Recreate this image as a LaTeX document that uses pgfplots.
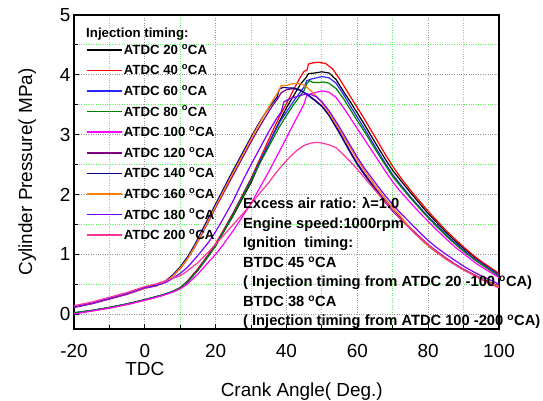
\documentclass[border=0pt]{standalone}
\usepackage{fontspec}
\setmainfont{Liberation Sans}
\usepackage{pgfplots}
\pgfplotsset{compat=1.18}
\definecolor{cRed}{RGB}{255,0,0}
\definecolor{cBlue}{RGB}{40,40,255}
\definecolor{cGreen}{RGB}{0,128,0}
\definecolor{cMag}{RGB}{255,0,255}
\definecolor{cPurp}{RGB}{128,0,128}
\definecolor{cNavy}{RGB}{0,0,140}
\definecolor{cOrange}{RGB}{255,128,0}
\definecolor{cViolet}{RGB}{128,0,255}
\definecolor{cPink}{RGB}{255,51,153}
\definecolor{gridgreen}{RGB}{90,240,90}
\begin{document}
\begin{tikzpicture}
\path[use as bounding box] (-74bp,-72bp) rectangle (469bp,329bp);
\begin{axis}[
 scale only axis, width=425bp, height=314bp,
 xmin=-20, xmax=100, ymin=-0.25, ymax=5,
 xtick={-20,0,...,100}, minor xtick={-10,10,...,90},
 ytick={0,1,...,5}, minor ytick={0.5,1.5,...,4.5},
 grid=both,
 major grid style={gray!85, dotted, line width=0.8bp},
 minor grid style={gridgreen, dotted, line width=1bp},
 axis line style={line width=1.6bp},
 tick align=inside, tick pos=left,
 major tick length=5bp, minor tick length=4bp,
 every tick/.style={black, line width=1bp},
 /pgf/number format/assume math mode=true,
 ticklabel style={font=\fontsize{19}{22}\selectfont},
 xticklabel style={yshift=-12bp},
 xlabel={Crank Angle( Deg.)}, ylabel={Cylinder Pressure( MPa)},
 label style={font=\fontsize{19}{22}\selectfont},
 xlabel style={at={(axis description cs:0.536,-0.198)}, anchor=center},
 ylabel style={at={(axis description cs:-0.11,0.5)}, anchor=center},
 legend style={at={(rel axis cs:0.027,0.909)}, anchor=north west, draw=none, fill=none,
   font=\bfseries\fontsize{13.3}{14}\selectfont, row sep=8.6bp, inner sep=0pt,
   nodes={inner sep=1.5bp, text height=9bp, text depth=0pt}},
 legend cell align=left,
 legend image code/.code={\draw[#1, line width=1.7bp, solid] (0bp,0bp) -- (35bp,0bp);},
 every axis plot/.append style={line width=1.2bp},
 after end axis/.code={
   \node[anchor=west, inner sep=0pt, font=\bfseries\fontsize{13.3}{14}\selectfont] at (axis cs:-16.6,4.683) {Injection timing:};
   \node[anchor=north west, align=left, inner sep=0pt, font=\bfseries\fontsize{14.75}{19.6}\selectfont] at (axis cs:27.7,1.95) {Excess air ratio: λ=1.0\\Engine speed:1000rpm\\Ignition\ \ timing:\\BTDC 45 \textsuperscript{o}CA\\( Injection timing from ATDC 20 -100 \textsuperscript{o}CA)\\BTDC 38 \textsuperscript{o}CA\\( Injection timing from ATDC 100 -200 \textsuperscript{o}CA)};
   \node[font=\fontsize{19}{22}\selectfont] at (axis cs:0,-0.25) [yshift=-40bp] {TDC};
 },
]
\addplot[black] coordinates {(-20,0.02) (-15,0.06) (-10,0.11) (-5,0.17) (0,0.24) (5,0.32) (8,0.38) (10,0.44) (12,0.54) (15,0.74) (18,0.98) (20,1.15) (22,1.35) (25,1.65) (28,1.98) (30,2.2) (33,2.6) (35,2.85) (38,3.22) (40,3.45) (42,3.65) (44,3.85) (45.5,3.95) (46.2,4.02) (48,4.03) (50,4.05) (52,4.03) (54,3.92) (56,3.73) (58,3.55) (60,3.36) (62,3.17) (65,2.87) (68,2.58) (70,2.4) (72,2.25) (75,2.03) (78,1.82) (80,1.68) (82.4,1.53) (85,1.37) (88,1.2) (90,1.1) (93.8,0.92) (97.5,0.77) (100,0.67)};
\addlegendentry{ATDC 20 \textsuperscript{o}CA}
\addplot[cRed] coordinates {(-20,0.01) (-15,0.05) (-10,0.1) (-5,0.16) (0,0.23) (5,0.31) (8,0.38) (10,0.44) (12,0.55) (15,0.76) (18,1.0) (20,1.18) (22,1.38) (25,1.7) (28,2.04) (30,2.27) (33,2.66) (35,2.92) (38,3.3) (40,3.52) (42,3.75) (44,3.97) (45,4.06) (45.8,4.08) (46.2,4.18) (47.5,4.2) (49,4.21) (51,4.19) (53,4.1) (55,3.93) (58,3.64) (60,3.45) (62,3.26) (65,2.96) (68,2.66) (70,2.47) (72,2.3) (75,2.07) (78,1.86) (80,1.72) (82,1.59) (85,1.4) (88,1.23) (90,1.12) (93,0.97) (95,0.88) (97.5,0.78) (100,0.68)};
\addlegendentry{ATDC 40 \textsuperscript{o}CA}
\addplot[cBlue] coordinates {(-20,0.02) (-15,0.06) (-10,0.11) (-5,0.17) (0,0.24) (5,0.32) (8,0.38) (10,0.44) (12,0.54) (15,0.74) (18,0.98) (20,1.15) (22,1.36) (25,1.68) (28,2.02) (30,2.25) (33,2.62) (35,2.85) (38,3.2) (40,3.38) (42,3.56) (44,3.72) (45,3.8) (45.7,3.9) (47,3.93) (48.5,3.95) (50,3.97) (52,3.95) (54,3.86) (56,3.68) (58,3.48) (60,3.29) (62,3.1) (65,2.8) (68,2.51) (70,2.33) (72,2.18) (75,1.96) (78,1.76) (80,1.63) (82,1.51) (85,1.33) (88,1.17) (90,1.07) (93,0.93) (95,0.85) (97.5,0.75) (100,0.65)};
\addlegendentry{ATDC 60 \textsuperscript{o}CA}
\addplot[cGreen] coordinates {(-20,0.02) (-15,0.06) (-10,0.11) (-5,0.17) (0,0.24) (5,0.32) (8,0.38) (10,0.44) (12,0.53) (15,0.73) (18,0.97) (20,1.14) (22,1.35) (25,1.67) (28,2.0) (30,2.23) (33,2.58) (35,2.8) (38,3.13) (40,3.32) (42,3.5) (44,3.66) (45,3.74) (45.8,3.86) (46.5,3.9) (47.5,3.87) (49,3.87) (50.5,3.88) (52,3.86) (54,3.77) (56,3.61) (58,3.42) (60,3.23) (62,3.05) (65,2.76) (68,2.48) (70,2.3) (72,2.15) (75,1.94) (78,1.74) (80,1.61) (82,1.49) (85,1.31) (88,1.15) (90,1.05) (93,0.91) (95,0.83) (97.5,0.73) (100,0.63)};
\addlegendentry{ATDC 80 \textsuperscript{o}CA}
\addplot[cMag] coordinates {(-20,0.0) (-15,0.05) (-10,0.1) (-5,0.16) (0,0.23) (5,0.31) (8,0.37) (10,0.42) (12,0.5) (15,0.67) (18,0.87) (20,1.0) (22,1.15) (25,1.4) (28,1.67) (30,1.85) (33,2.17) (35,2.38) (38,2.72) (40,2.95) (42,3.18) (44,3.4) (45,3.52) (45.7,3.66) (47,3.68) (48.5,3.71) (50,3.73) (52,3.71) (54,3.62) (56,3.46) (58,3.28) (60,3.1) (62,2.92) (65,2.65) (68,2.38) (70,2.21) (72,2.06) (75,1.86) (78,1.67) (80,1.55) (82,1.43) (85,1.26) (88,1.1) (90,1.01) (93,0.87) (95,0.79) (97.5,0.7) (100,0.61)};
\addlegendentry{ATDC 100 \textsuperscript{o}CA}
\addplot[cPurp] coordinates {(-20,0.11) (-15,0.17) (-10,0.25) (-5,0.33) (0,0.43) (3,0.47) (6,0.55) (8,0.64) (10,0.76) (12,0.92) (14,1.11) (16.5,1.38) (18,1.55) (20,1.78) (22,2.0) (24,2.22) (26,2.44) (28,2.66) (30,2.88) (32,3.09) (34,3.29) (36,3.48) (37.5,3.6) (38.5,3.7) (40,3.75) (42,3.77) (44,3.74) (46,3.67) (48,3.58) (50,3.48) (52,3.33) (55,3.04) (58,2.72) (60,2.52) (62,2.35) (65,2.11) (68,1.88) (70,1.74) (72,1.62) (75,1.44) (78,1.27) (80,1.16) (82,1.07) (85,0.94) (88,0.82) (90,0.75) (93,0.66) (95,0.6) (97.5,0.53) (100,0.47)};
\addlegendentry{ATDC 120 \textsuperscript{o}CA}
\addplot[cNavy] coordinates {(-20,0.12) (-15,0.18) (-10,0.26) (-5,0.34) (0,0.44) (2,0.48) (3,0.47) (4,0.5) (6,0.56) (8,0.66) (10,0.79) (12,0.95) (14,1.15) (16.5,1.44) (18,1.61) (20,1.84) (22,2.07) (24,2.3) (26,2.52) (28,2.74) (30,2.96) (32,3.17) (34,3.36) (36,3.53) (37.3,3.62) (38,3.76) (39,3.79) (40.5,3.78) (42,3.78) (44,3.74) (46,3.66) (48,3.57) (50,3.47) (52,3.32) (55,3.02) (58,2.7) (60,2.5) (62,2.33) (65,2.09) (68,1.86) (70,1.72) (72,1.6) (75,1.42) (78,1.25) (80,1.14) (82,1.05) (85,0.92) (88,0.81) (90,0.74) (93,0.65) (95,0.59) (97.5,0.52) (100,0.46)};
\addlegendentry{ATDC 140 \textsuperscript{o}CA}
\addplot[cOrange] coordinates {(-20,0.12) (-15,0.18) (-10,0.26) (-5,0.34) (0,0.43) (2,0.47) (3,0.46) (4,0.5) (6,0.55) (8,0.64) (10,0.77) (12,0.92) (14,1.12) (16.5,1.4) (18,1.57) (20,1.8) (22,2.03) (24,2.26) (26,2.48) (28,2.7) (30,2.93) (32,3.15) (34,3.36) (36,3.56) (37.5,3.7) (38.5,3.82) (40,3.82) (41.5,3.85) (43,3.86) (44.5,3.84) (46,3.78) (48,3.67) (50,3.53) (52,3.36) (55,3.08) (58,2.78) (60,2.58) (62,2.4) (65,2.15) (68,1.92) (70,1.78) (72,1.65) (75,1.43) (78,1.25) (80,1.14) (82,1.05) (85,0.92) (88,0.81) (90,0.74) (93,0.65) (95,0.59) (97.5,0.52) (100,0.46)};
\addlegendentry{ATDC 160 \textsuperscript{o}CA}
\addplot[cViolet] coordinates {(-20,0.12) (-15,0.18) (-10,0.26) (-5,0.34) (0,0.44) (3,0.47) (6,0.53) (8,0.6) (10,0.68) (12,0.78) (15,0.98) (18,1.2) (20,1.38) (22,1.58) (25,1.9) (28,2.27) (30,2.5) (32,2.72) (35,3.05) (37,3.25) (38.5,3.38) (39.3,3.55) (41,3.6) (43,3.64) (45.5,3.68) (47,3.67) (48.5,3.63) (50,3.55) (52,3.4) (55,3.12) (58,2.82) (60,2.62) (62,2.44) (65,2.2) (68,1.97) (70,1.83) (72,1.7) (75,1.52) (78,1.34) (80,1.23) (82,1.13) (85,1.0) (88,0.88) (90,0.8) (93,0.7) (95,0.64) (97.5,0.57) (100,0.5)};
\addlegendentry{ATDC 180 \textsuperscript{o}CA}
\addplot[cPink] coordinates {(-20,0.14) (-15,0.2) (-10,0.28) (-5,0.36) (0,0.46) (3,0.5) (6,0.56) (8,0.6) (10,0.64) (12,0.72) (15,0.86) (18,1.04) (20,1.17) (22,1.3) (25,1.5) (28,1.7) (30,1.84) (33,2.06) (35,2.2) (37,2.36) (39,2.5) (41,2.63) (43,2.74) (45,2.82) (47,2.86) (48.5,2.87) (50,2.86) (52,2.83) (54,2.78) (56,2.67) (58,2.55) (60,2.42) (62,2.28) (65,2.07) (68,1.86) (70,1.73) (72,1.6) (75,1.42) (78,1.26) (80,1.16) (82,1.06) (85,0.93) (88,0.81) (90,0.74) (93,0.64) (95,0.58) (97.5,0.5) (100,0.44)};
\addlegendentry{ATDC 200 \textsuperscript{o}CA}
\end{axis}
\end{tikzpicture}
\end{document}
